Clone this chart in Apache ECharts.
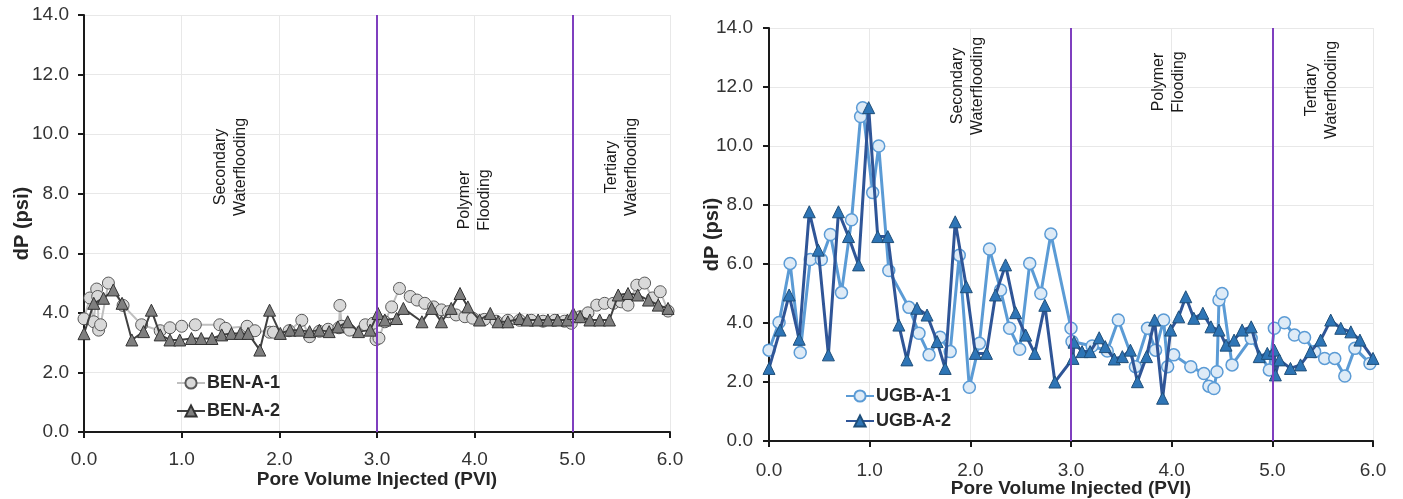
<!DOCTYPE html>
<html>
<head>
<meta charset="utf-8">
<script src="https://cdn.jsdelivr.net/npm/echarts@6/dist/echarts.min.js"></script>
<style>
html,body{margin:0;padding:0;background:#fff;}
#c{width:1403px;height:499px;}
</style>
</head>
<body>
<div id="c"></div>
<script>
// ---- Data (x = PVI, y = dP psi) ----
const xTicks = [0, 1, 2, 3, 4, 5, 6];
const yTicks = [0, 2, 4, 6, 8, 10, 12, 14];
const phaseBoundaries = [3, 5];
const phaseLabelsLeft = ['Secondary\nWaterflooding', 'Polymer\nFlooding', 'Tertiary\nWaterflooding'];
const phaseLabelsRight = ['Secondary\nWaterflooding', 'Polymer\nFlooding', 'Tertiary\nWaterflooding'];

const benA1 = [
  [0,3.8],[0.06,4.5],[0.10,3.7],[0.13,4.8],[0.14,4.55],[0.15,3.42],[0.17,3.6],[0.25,5.0],
  [0.40,4.25],[0.59,3.6],[0.78,3.4],[0.88,3.5],[1.00,3.55],[1.14,3.6],[1.39,3.6],[1.45,3.48],
  [1.67,3.55],[1.75,3.4],[1.90,3.35],[1.94,3.35],[2.10,3.4],[2.23,3.75],[2.31,3.2],[2.41,3.38],
  [2.50,3.45],[2.61,3.5],[2.62,4.25],[2.64,3.55],[2.72,3.42],[2.88,3.6],[2.96,3.65],[2.99,3.1],
  [3.02,3.15],[3.08,3.7],[3.15,4.2],[3.23,4.82],[3.34,4.55],[3.41,4.43],[3.49,4.32],[3.58,4.2],
  [3.66,4.1],[3.73,4.04],[3.81,3.93],[3.90,3.87],[3.98,3.82],[4.10,3.78],[4.22,3.72],[4.34,3.75],
  [4.46,3.75],[4.58,3.75],[4.70,3.72],[4.82,3.75],[4.92,3.72],[4.99,3.65],[5.08,3.87],[5.16,4.0],
  [5.25,4.26],[5.33,4.32],[5.42,4.32],[5.50,4.37],[5.57,4.26],[5.66,4.93],[5.74,5.0],[5.82,4.5],
  [5.90,4.71],[5.98,4.06]
];
const benA2 = [
  [0,3.3],[0.10,4.32],[0.20,4.49],[0.30,4.77],[0.39,4.32],[0.49,3.09],[0.61,3.37],[0.69,4.09],
  [0.78,3.26],[0.88,3.09],[0.98,3.09],[1.10,3.14],[1.20,3.14],[1.31,3.14],[1.41,3.26],[1.51,3.31],
  [1.60,3.31],[1.68,3.31],[1.80,2.75],[1.90,4.09],[2.01,3.31],[2.11,3.42],[2.21,3.42],[2.31,3.37],
  [2.41,3.42],[2.51,3.37],[2.60,3.53],[2.70,3.7],[2.81,3.37],[2.93,3.42],[3.01,3.98],[3.08,3.76],
  [3.20,3.81],[3.27,4.15],[3.46,3.7],[3.56,4.15],[3.66,3.7],[3.76,4.15],[3.85,4.65],[3.93,4.2],
  [4.05,3.76],[4.16,3.98],[4.24,3.7],[4.34,3.7],[4.46,3.81],[4.54,3.76],[4.65,3.76],[4.75,3.76],
  [4.85,3.76],[4.95,3.76],[5.01,3.98],[5.08,3.87],[5.18,3.76],[5.28,3.76],[5.38,3.76],[5.47,4.6],
  [5.57,4.65],[5.67,4.6],[5.78,4.43],[5.88,4.26],[5.98,4.15]
];
const ugbA1 = [
  [0,3.08],[0.10,4.02],[0.21,6.02],[0.31,3.0],[0.41,6.15],[0.52,6.15],[0.61,7.0],[0.72,5.03],
  [0.82,7.5],[0.91,11.0],[0.93,11.3],[1.03,8.42],[1.09,10.0],[1.19,5.78],[1.39,4.53],[1.49,3.65],
  [1.59,2.92],[1.70,3.52],[1.80,3.03],[1.89,6.3],[1.99,1.82],[2.09,3.31],[2.19,6.51],[2.30,5.12],
  [2.39,3.82],[2.49,3.11],[2.59,6.02],[2.70,5.0],[2.80,7.02],[3.00,3.82],[3.01,3.37],[3.21,3.22],
  [3.36,3.05],[3.47,4.1],[3.64,2.52],[3.76,3.82],[3.84,3.08],[3.92,4.1],[3.96,2.52],[4.02,2.92],
  [4.19,2.52],[4.32,2.29],[4.37,1.86],[4.42,1.78],[4.45,2.35],[4.47,4.78],[4.50,5.0],[4.60,2.58],
  [4.79,3.48],[4.97,2.41],[5.02,3.82],[5.12,4.01],[5.22,3.59],[5.32,3.51],[5.42,3.03],[5.52,2.8],
  [5.62,2.8],[5.72,2.2],[5.82,3.14],[5.97,2.63]
];
const ugbA2 = [
  [0,2.46],[0.11,3.76],[0.20,4.95],[0.30,3.45],[0.40,7.77],[0.49,6.47],[0.59,2.92],[0.69,7.77],
  [0.79,6.93],[0.89,5.97],[0.99,11.3],[1.08,6.93],[1.18,6.93],[1.29,3.93],[1.37,2.75],[1.47,4.5],
  [1.57,4.27],[1.67,3.37],[1.75,2.46],[1.85,7.43],[1.96,5.23],[2.05,2.97],[2.16,2.97],[2.25,4.95],
  [2.35,5.97],[2.45,4.35],[2.55,3.59],[2.64,2.97],[2.74,4.6],[2.84,2.0],[3.02,2.8],[3.03,3.35],
  [3.11,3.03],[3.19,3.03],[3.28,3.5],[3.34,3.2],[3.43,2.78],[3.51,2.86],[3.59,3.08],[3.66,2.01],
  [3.75,2.86],[3.83,4.1],[3.91,1.45],[3.99,3.76],[4.07,4.21],[4.14,4.89],[4.22,4.16],[4.31,4.33],
  [4.39,3.87],[4.47,3.76],[4.54,3.25],[4.62,3.42],[4.70,3.76],[4.79,3.87],[4.87,2.86],[4.95,2.97],
  [5.02,3.08],[5.03,2.24],[5.07,2.75],[5.18,2.46],[5.28,2.58],[5.38,3.03],[5.48,3.42],[5.58,4.1],
  [5.68,3.82],[5.78,3.7],[5.87,3.42],[6.00,2.8]
];

// ---- Styling ----
const FONT = "'Liberation Sans', Arial, sans-serif";
const PURPLE = '#7F3FBF';
const chart = echarts.init(document.getElementById('c'), null, {renderer: 'canvas'});

function xAxisCfg(gi, titleGap, labelMargin) {
  return {
    type: 'value', gridIndex: gi, min: xTicks[0], max: xTicks[xTicks.length-1], interval: 1,
    name: 'Pore Volume Injected (PVI)', nameLocation: 'middle', nameGap: titleGap, nameMoveOverlap: false,
    nameTextStyle: {fontFamily: FONT, fontWeight: 'bold', fontSize: 19, color: '#262626'},
    axisLine: {show: true, onZero: false, lineStyle: {color: '#1a1a1a', width: 2}},
    axisTick: {show: true, inside: false, length: 6, lineStyle: {color: '#1a1a1a', width: 2}},
    axisLabel: {fontFamily: FONT, fontSize: 19, color: '#333', margin: labelMargin, formatter: v => v.toFixed(1)},
    splitLine: {show: true, lineStyle: {color: '#e8e8e8', width: 1}}
  };
}
function yAxisCfg(gi, titleGap, labelMargin) {
  return {
    type: 'value', gridIndex: gi, min: yTicks[0], max: yTicks[yTicks.length-1], interval: 2,
    name: 'dP (psi)', nameLocation: 'middle', nameGap: titleGap, nameRotate: 90, nameMoveOverlap: false,
    nameTextStyle: {fontFamily: FONT, fontWeight: 'bold', fontSize: 20, color: '#262626'},
    axisLine: {show: true, lineStyle: {color: '#1a1a1a', width: 2}},
    axisTick: {show: true, inside: false, length: 6, lineStyle: {color: '#1a1a1a', width: 2}},
    axisLabel: {fontFamily: FONT, fontSize: 19, color: '#333', margin: labelMargin, formatter: v => v.toFixed(1)},
    splitLine: {show: true, lineStyle: {color: '#e8e8e8', width: 1}}
  };
}
function phaseMarkLine() {
  return {
    silent: true, symbol: ['none', 'none'], label: {show: false},
    lineStyle: {color: PURPLE, width: 2, type: 'solid'},
    data: phaseBoundaries.map(v => ({xAxis: v}))
  };
}
function annot(text, x, y) {
  return {
    type: 'text', x: x, y: y, rotation: Math.PI / 2, z: 100,
    style: {text: text, fontFamily: FONT, fontSize: 16, lineHeight: 20, fill: '#1a1a1a',
            align: 'center', verticalAlign: 'middle'}
  };
}

const option = {
  backgroundColor: '#fff',
  animation: false,
  grid: [
    {left: 84, right: 733, top: 15, bottom: 67, outerBoundsMode: 'none', containLabel: false},
    {left: 769, right: 30, top: 28, bottom: 58, outerBoundsMode: 'none', containLabel: false}
  ],
  xAxis: [xAxisCfg(0, 38, 18), xAxisCfg(1, 38, 20)],
  yAxis: [yAxisCfg(0, 52, 15), yAxisCfg(1, 47, 16)],
  legend: [
    {
      data: ['BEN-A-1', 'BEN-A-2'], orient: 'vertical', left: 171, top: 369,
      itemWidth: 28, itemHeight: 14, itemGap: 10,
      textStyle: {fontFamily: FONT, fontWeight: 'bold', fontSize: 18, color: '#262626', padding: [0,0,0,-3]}
    },
    {
      data: ['UGB-A-1', 'UGB-A-2'], orient: 'vertical', left: 840, top: 382,
      itemWidth: 28, itemHeight: 14, itemGap: 7,
      textStyle: {fontFamily: FONT, fontWeight: 'bold', fontSize: 18, color: '#262626', padding: [0,0,0,-3]}
    }
  ],
  series: [
    {
      name: 'BEN-A-1', type: 'line', xAxisIndex: 0, yAxisIndex: 0, data: benA1,
      symbol: 'circle', symbolSize: 12,
      lineStyle: {color: '#bfbfbf', width: 2},
      itemStyle: {color: '#d9d9d9', borderColor: '#595959', borderWidth: 1},
      markLine: phaseMarkLine(), z: 2
    },
    {
      name: 'BEN-A-2', type: 'line', xAxisIndex: 0, yAxisIndex: 0, data: benA2,
      symbol: 'triangle', symbolSize: 12,
      lineStyle: {color: '#404040', width: 2},
      itemStyle: {color: '#7f7f7f', borderColor: '#333333', borderWidth: 1}, z: 3
    },
    {
      name: 'UGB-A-1', type: 'line', xAxisIndex: 1, yAxisIndex: 1, data: ugbA1,
      symbol: 'circle', symbolSize: 12,
      lineStyle: {color: '#5b9bd5', width: 3},
      itemStyle: {color: '#deebf7', borderColor: '#5b9bd5', borderWidth: 1.5},
      markLine: phaseMarkLine(), z: 2
    },
    {
      name: 'UGB-A-2', type: 'line', xAxisIndex: 1, yAxisIndex: 1, data: ugbA2,
      symbol: 'triangle', symbolSize: 12,
      lineStyle: {color: '#2f5597', width: 3},
      itemStyle: {color: '#2e75b6', borderColor: '#1f4e79', borderWidth: 1}, z: 3
    }
  ],
  graphic: [
    annot(phaseLabelsLeft[0], 231, 167),
    annot(phaseLabelsLeft[1], 475, 200),
    annot(phaseLabelsLeft[2], 622, 167),
    annot(phaseLabelsRight[0], 968, 86),
    annot(phaseLabelsRight[1], 1169, 82),
    annot(phaseLabelsRight[2], 1322, 90)
  ]
};
chart.setOption(option);
</script>
</body>
</html>
